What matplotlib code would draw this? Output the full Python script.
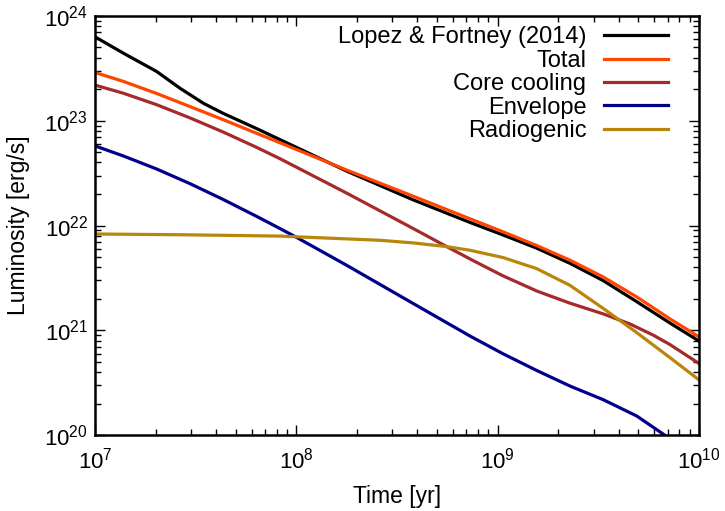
import matplotlib
matplotlib.use("Agg")
import matplotlib.pyplot as plt
import numpy as np

plt.rcParams['font.family'] = ['Liberation Sans', 'DejaVu Sans']
plt.rcParams['mathtext.fontset'] = 'custom'
plt.rcParams['mathtext.rm'] = 'Liberation Sans'
plt.rcParams['mathtext.it'] = 'Liberation Sans:italic'
plt.rcParams['mathtext.bf'] = 'Liberation Sans:bold'

# log10 of time [yr] and luminosity [erg/s]
lf_logt = [7.0, 7.141, 7.306, 7.422, 7.538, 7.637, 7.803, 7.919, 8.25, 8.581,
           8.863, 9.028, 9.194, 9.36, 9.525, 9.691, 9.857, 10.0]
lf_logL = [23.80, 23.644, 23.47, 23.31, 23.167, 23.07, 22.925, 22.82, 22.52, 22.245,
           22.03, 21.91, 21.785, 21.64, 21.475, 21.275, 21.07, 20.90]

tot_logt = [7.0, 7.141, 7.306, 7.472, 7.637, 7.803, 7.919, 8.25, 8.581, 8.863,
            9.028, 9.194, 9.36, 9.525, 9.691, 9.857, 10.0]
tot_logL = [23.46, 23.375, 23.26, 23.135, 23.01, 22.88, 22.79, 22.53, 22.28, 22.065,
            21.94, 21.81, 21.67, 21.51, 21.32, 21.11, 20.94]

core_logt = [7.0, 7.141, 7.306, 7.472, 7.637, 7.803, 7.919, 8.25, 8.581, 8.747,
             8.863, 8.946, 9.028, 9.194, 9.36, 9.525, 9.658, 9.774, 9.857, 10.0]
core_logL = [23.34, 23.262, 23.153, 23.027, 22.892, 22.746, 22.638, 22.31, 21.972, 21.80,
             21.682, 21.60, 21.52, 21.377, 21.26, 21.158, 21.062, 20.955, 20.865, 20.686]

env_logt = [7.0, 7.141, 7.306, 7.472, 7.637, 7.803, 7.919, 8.002, 8.25, 8.416,
            8.581, 8.863, 9.028, 9.194, 9.36, 9.525, 9.691, 9.832]
env_logL = [22.76, 22.664, 22.54, 22.40, 22.249, 22.088, 21.972, 21.887, 21.622, 21.439,
            21.257, 20.947, 20.777, 20.619, 20.47, 20.34, 20.185, 20.0]

rad_logt = [7.0, 7.422, 7.919, 8.416, 8.581, 8.747, 8.863, 9.028, 9.194, 9.36,
            9.525, 9.608, 9.691, 9.857, 10.0]
rad_logL = [21.92, 21.913, 21.90, 21.86, 21.835, 21.80, 21.765, 21.695, 21.59, 21.43,
            21.21, 21.095, 20.98, 20.74, 20.53]

series = [
    ('Lopez & Fortney (2014)', lf_logt, lf_logL, 'black'),
    ('Total', tot_logt, tot_logL, '#ff4500'),
    ('Core cooling', core_logt, core_logL, '#a52a2a'),
    ('Envelope', env_logt, env_logL, '#00008b'),
    ('Radiogenic', rad_logt, rad_logL, '#b8860b'),
]

fig = plt.figure(figsize=(7.25, 5.11), dpi=100)
ax = fig.add_axes([0.131, 0.148, 0.833, 0.821])

for label, lt, lL, c in series:
    ax.plot(10**np.array(lt), 10**np.array(lL), color=c, lw=2.3, label=label,
            solid_joinstyle='round')

ax.set_xscale('log')
ax.set_yscale('log')
ax.set_xlim(1e7, 1e10)
ax.set_ylim(1e20, 1e24)
ax.set_xlabel('Time [yr]', fontsize=16.5, labelpad=8)
ax.set_ylabel('Luminosity [erg/s]', fontsize=16.5, labelpad=10)

ax.tick_params(which='both', direction='in', top=True, right=True, labelsize=16, width=1)
ax.tick_params(which='major', length=7)
ax.tick_params(which='minor', length=4)
ax.tick_params(axis='x', which='major', pad=9)
ax.tick_params(axis='y', which='major', pad=5)
for s in ax.spines.values():
    s.set_linewidth(1.8)

ax.legend(loc='upper right', frameon=False, markerfirst=False, fontsize=17,
          handlelength=2.7, handletextpad=0.75, labelspacing=0.06,
          borderaxespad=0.0, borderpad=0.45, bbox_to_anchor=(0.966, 1.0))

fig.savefig('out.png', dpi=100)
